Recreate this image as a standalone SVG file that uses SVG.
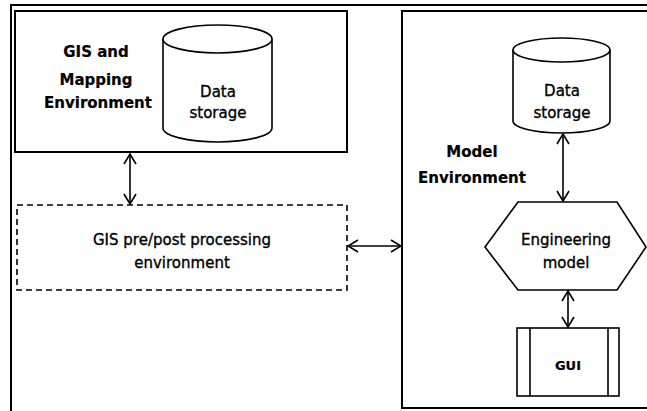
<svg xmlns="http://www.w3.org/2000/svg" width="647" height="411" viewBox="0 0 647 411">
<style>
.f{fill:none;stroke:#000;stroke-width:2}
.s{fill:#fff;stroke:#000;stroke-width:1.6}
.d{fill:none;stroke:#000;stroke-width:1.6;stroke-dasharray:6 4}
.c{fill:none;stroke:#000;stroke-width:1.6;marker-start:url(#a);marker-end:url(#a)}
text{font-family:"DejaVu Sans","Liberation Sans",sans-serif;font-size:15px;fill:#000;stroke:#000;stroke-width:0.35;text-anchor:middle}
.b{font-weight:bold;stroke-width:0.2}
</style>
<defs>
<marker id="a" viewBox="0 0 12 14" refX="11" refY="7" markerWidth="12" markerHeight="14" markerUnits="userSpaceOnUse" orient="auto-start-reverse">
<path d="M1,1 L11,7 L1,13" fill="none" stroke="#000" stroke-width="1.6"/>
</marker>
</defs>
<rect width="647" height="411" fill="#fff"/>
<g id="frame">
<path class="f" d="M11,411 V5 H647"/>
</g>
<g id="gis-env">
<rect class="f" x="15" y="11" width="332" height="141"/>
<text class="b" x="96" y="57">GIS and</text>
<text class="b" x="96" y="85">Mapping</text>
<text class="b" x="98" y="108">Environment</text>
</g>
<g id="gis-storage">
<path class="s" d="M163,39 V128 A54.5,14 0 0 0 272,128 V39"/>
<ellipse class="s" cx="217.5" cy="39" rx="54.5" ry="14"/>
<text x="218" y="97">Data</text>
<text x="218" y="118">storage</text>
</g>
<g id="model-env">
<path class="f" d="M650,408 H402 V11 H650"/>
<text class="b" x="472" y="157">Model</text>
<text class="b" x="472" y="183">Environment</text>
</g>
<g id="model-storage">
<path class="s" d="M513,50 V121 A48.5,12 0 0 0 610,121 V50"/>
<ellipse class="s" cx="561.5" cy="50" rx="48.5" ry="12"/>
<text x="562" y="96">Data</text>
<text x="562" y="118">storage</text>
</g>
<g id="processing">
<rect class="d" x="17" y="205" width="330" height="85"/>
<text x="182" y="245">GIS pre/post processing</text>
<text x="182" y="268">environment</text>
</g>
<g id="engineering">
<polygon class="s" points="485,247 518,202 617,202 646,247 617,290 518,290"/>
<text x="566" y="245">Engineering</text>
<text x="566" y="268">model</text>
</g>
<g id="gui">
<rect class="s" x="517" y="328" width="102" height="68"/>
<path class="s" d="M530,328 V396 M608,328 V396"/>
<text class="b" x="568" y="370" style="font-size:13px">GUI</text>
</g>
<g id="connectors">
<path class="c" d="M130,154 V204"/>
<path class="c" d="M348,246 H401"/>
<path class="c" d="M563,134 V201"/>
<path class="c" d="M568,291 V327"/>
</g>
</svg>
